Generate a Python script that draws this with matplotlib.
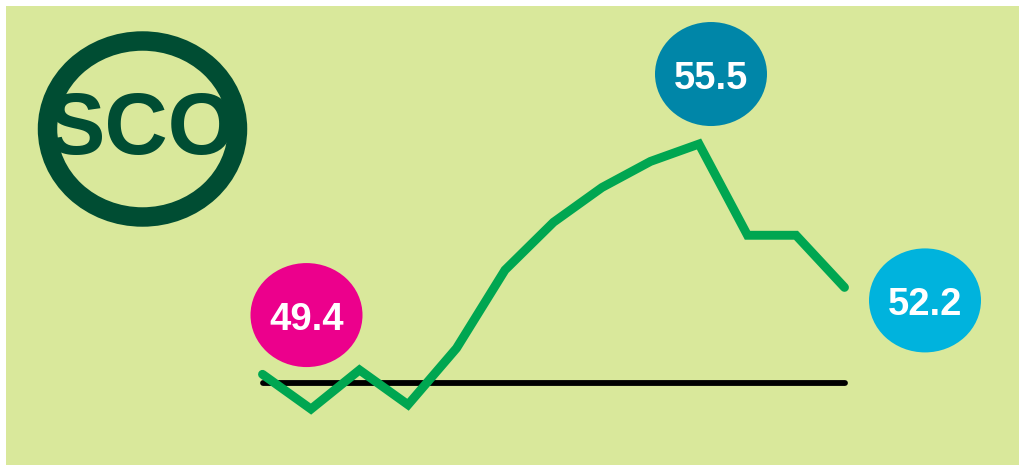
import matplotlib
matplotlib.use("Agg")
import matplotlib.pyplot as plt
from matplotlib.patches import Ellipse, Rectangle

# ---- data ----
periods = list(range(13))
values = [50.2, 49.4, 50.3, 49.5, 50.8, 52.6, 53.7, 54.5, 55.1, 55.5, 53.4, 53.4, 52.2]
baseline = 50.0
logo_text = "SCO"

W, H = 1019, 465
fig = plt.figure(figsize=(W / 100, H / 100), dpi=100)
fig.patch.set_facecolor("white")

# background panel
bg = fig.add_axes([0, 0, 1, 1])
bg.set_xlim(0, W)
bg.set_ylim(H, 0)
bg.axis("off")
bg.add_patch(Rectangle((6, 6), W - 6, H - 6, facecolor="#d9e89b", edgecolor="none"))

# main data axes
ax = fig.add_axes([0, 0, 1, 1])
ax.patch.set_alpha(0)
ax.axis("off")
px_per_x = 48.5
px_per_y = 43.45
x0_px = 262.5
base_px = 383
ax.set_xlim(-x0_px / px_per_x, 12 + (W - 844.5) / px_per_x)
ax.set_ylim(baseline - (H - base_px) / px_per_y, baseline + base_px / px_per_y)

ax.plot([periods[0], periods[-1]], [baseline, baseline], color="black", lw=4.2,
        solid_capstyle="round", zorder=2)
ax.plot(periods, values, color="#00a651", lw=6.4, solid_capstyle="round",
        solid_joinstyle="miter", zorder=3)

# overlay in pixel space for bubbles / logo
ov = fig.add_axes([0, 0, 1, 1])
ov.patch.set_alpha(0)
ov.axis("off")
ov.set_xlim(0, W)
ov.set_ylim(H, 0)

fig.canvas.draw()


def to_px(x, y):
    dx, dy = ax.transData.transform((x, y))
    return dx, H - dy


imin = values.index(min(values))
imax = values.index(max(values))
ilast = len(values) - 1
bubbles = [
    (imin, "#ec008c", (-4.5, -94)),
    (imax, "#0086a8", (12, -70)),
    (ilast, "#00b3dd", (80.5, 13)),
]
for idx, col, (ox, oy) in bubbles:
    px, py = to_px(periods[idx], values[idx])
    cx, cy = px + ox, py + oy
    ov.add_patch(Ellipse((cx, cy), 112, 104, facecolor=col, edgecolor="none", zorder=5))
    ov.text(cx, cy + 1, f"{values[idx]:.1f}", color="white", fontsize=27.5, fontweight="bold",
            family="Liberation Sans", ha="center", va="center_baseline", zorder=6)

# logo
ov.add_patch(Ellipse((142.5, 129), 190, 176, facecolor="none", edgecolor="#004d33",
                     lw=14, zorder=5))
ov.text(141.5, 131, logo_text, color="#004d33", fontsize=63, fontweight="bold",
        family="Liberation Sans", ha="center", va="center", zorder=6)

fig.savefig("out.png", dpi=100)
